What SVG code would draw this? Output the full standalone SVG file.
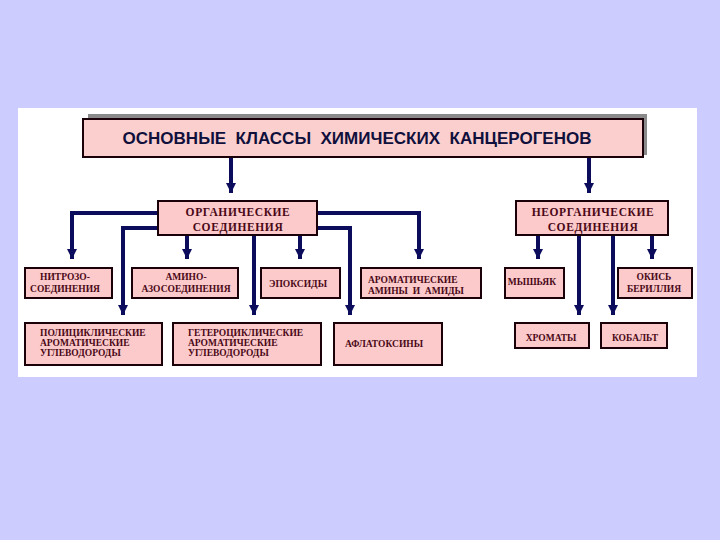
<svg xmlns="http://www.w3.org/2000/svg" width="720" height="540" viewBox="0 0 720 540">
<style>
.box{fill:#FCCACA;stroke:#1a0008;stroke-width:2}
.t{font-family:"Liberation Serif","DejaVu Serif",serif;font-weight:bold;fill:#4a0818;font-size:9.5px}
.tc{text-anchor:middle}
.big{font-size:11.5px;letter-spacing:0.6px}
.conn{fill:none;stroke:#0c0c5c;stroke-width:4}
</style>
<defs>
<marker id="ah" markerUnits="userSpaceOnUse" markerWidth="12" markerHeight="12" refX="10" refY="5" orient="auto">
<path d="M0,0 L10,5 L0,10 z" fill="#0c0c5c"/>
</marker>
</defs>
<rect x="0" y="0" width="720" height="540" fill="#CCCCFF"/>
<rect x="18" y="108" width="679" height="269" fill="#FFFFFF"/>

<g id="connectors">
<path class="conn" d="M231,157 V193" marker-end="url(#ah)"/>
<path class="conn" d="M589,157 V193" marker-end="url(#ah)"/>
<path class="conn" d="M157,213 H72 V259" marker-end="url(#ah)"/>
<path class="conn" d="M157,228 H123 V315" marker-end="url(#ah)"/>
<path class="conn" d="M187,235 V259" marker-end="url(#ah)"/>
<path class="conn" d="M254,235 V315" marker-end="url(#ah)"/>
<path class="conn" d="M300,235 V259" marker-end="url(#ah)"/>
<path class="conn" d="M317,213 H419 V259" marker-end="url(#ah)"/>
<path class="conn" d="M317,228 H350 V315" marker-end="url(#ah)"/>
<path class="conn" d="M538,235 V259" marker-end="url(#ah)"/>
<path class="conn" d="M579,235 V315" marker-end="url(#ah)"/>
<path class="conn" d="M613,235 V315" marker-end="url(#ah)"/>
<path class="conn" d="M652,235 V259" marker-end="url(#ah)"/>
</g>

<g id="title">
<rect x="88" y="114" width="559" height="41" fill="#8a8a8a"/>
<rect x="83" y="119" width="560" height="38" fill="#FCCFCF" stroke="#1a0008" stroke-width="2"/>
<text x="357" y="144" text-anchor="middle" font-family="'Liberation Sans','DejaVu Sans',sans-serif" font-weight="bold" font-size="17" fill="#10103c" textLength="469" lengthAdjust="spacingAndGlyphs" xml:space="preserve">ОСНОВНЫЕ  КЛАССЫ  ХИМИЧЕСКИХ  КАНЦЕРОГЕНОВ</text>
</g>

<g id="organic">
<rect class="box" x="158" y="201" width="159" height="34"/>
<text class="t tc big" x="238" y="216">ОРГАНИЧЕСКИЕ</text>
<text class="t tc big" x="238" y="231">СОЕДИНЕНИЯ</text>
</g>

<g id="inorganic">
<rect class="box" x="516" y="201" width="152" height="34"/>
<text class="t tc big" x="593" y="216">НЕОРГАНИЧЕСКИЕ</text>
<text class="t tc big" x="593" y="231">СОЕДИНЕНИЯ</text>
</g>

<g id="nitroso">
<rect class="box" x="25" y="268" width="87" height="30"/>
<text class="t tc" x="65" y="280">НИТРОЗО-</text>
<text class="t tc" x="65" y="292">СОЕДИНЕНИЯ</text>
</g>

<g id="aminoazo">
<rect class="box" x="132" y="268" width="106" height="30"/>
<text class="t tc" x="186" y="280">АМИНО-</text>
<text class="t tc" x="186" y="292">АЗОСОЕДИНЕНИЯ</text>
</g>

<g id="epoxides">
<rect class="box" x="261" y="268" width="79" height="30"/>
<text class="t tc" x="298" y="287">ЭПОКСИДЫ</text>
</g>

<g id="aromatic-amines">
<rect class="box" x="361" y="268" width="120" height="30"/>
<text class="t" x="368" y="283">АРОМАТИЧЕСКИЕ</text>
<text class="t" x="368" y="294" xml:space="preserve">АМИНЫ  И  АМИДЫ</text>
</g>

<g id="arsenic">
<rect class="box" x="505" y="268" width="59" height="30"/>
<text class="t tc" x="532" y="285" font-size="9">МЫШЬЯК</text>
</g>

<g id="beryllium">
<rect class="box" x="618" y="268" width="74" height="30"/>
<text class="t tc" x="654" y="280">ОКИСЬ</text>
<text class="t tc" x="654" y="292">БЕРИЛЛИЯ</text>
</g>

<g id="polycyclic">
<rect class="box" x="25" y="323" width="137" height="42"/>
<text class="t" x="40" y="336" font-size="10">ПОЛИЦИКЛИЧЕСКИЕ</text>
<text class="t" x="40" y="346" font-size="10">АРОМАТИЧЕСКИЕ</text>
<text class="t" x="40" y="356" font-size="10">УГЛЕВОДОРОДЫ</text>
</g>

<g id="heterocyclic">
<rect class="box" x="173" y="323" width="148" height="42"/>
<text class="t" x="188" y="336" font-size="10">ГЕТЕРОЦИКЛИЧЕСКИЕ</text>
<text class="t" x="188" y="346" font-size="10">АРОМАТИЧЕСКИЕ</text>
<text class="t" x="188" y="356" font-size="10">УГЛЕВОДОРОДЫ</text>
</g>

<g id="aflatoxins">
<rect class="box" x="334" y="323" width="108" height="42"/>
<text class="t tc" x="384" y="347" font-size="10">АФЛАТОКСИНЫ</text>
</g>

<g id="chromates">
<rect class="box" x="515" y="323" width="74" height="25"/>
<text class="t tc" x="551" y="341">ХРОМАТЫ</text>
</g>

<g id="cobalt">
<rect class="box" x="601" y="323" width="66" height="25"/>
<text class="t tc" x="635" y="341">КОБАЛЬТ</text>
</g>
</svg>
